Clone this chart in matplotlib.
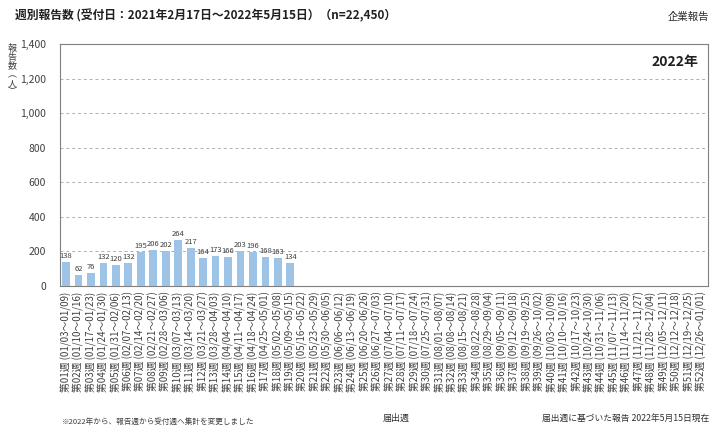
"""
    Weekly report counts by reception week (2022)
"""
import numpy as np
import matplotlib.pyplot as plt
from matplotlib.ticker import FuncFormatter

plt.rcParams['font.family'] = ['Noto Sans CJK JP', 'DejaVu Sans']

# week labels for 2022 (week 1 .. week 52)
week_labels = [
    "第01週 (01/03～01/09)", "第02週 (01/10～01/16)", "第03週 (01/17～01/23)",
    "第04週 (01/24～01/30)", "第05週 (01/31～02/06)", "第06週 (02/07～02/13)",
    "第07週 (02/14～02/20)", "第08週 (02/21～02/27)", "第09週 (02/28～03/06)",
    "第10週 (03/07～03/13)", "第11週 (03/14～03/20)", "第12週 (03/21～03/27)",
    "第13週 (03/28～04/03)", "第14週 (04/04～04/10)", "第15週 (04/11～04/17)",
    "第16週 (04/18～04/24)", "第17週 (04/25～05/01)", "第18週 (05/02～05/08)",
    "第19週 (05/09～05/15)", "第20週 (05/16～05/22)", "第21週 (05/23～05/29)",
    "第22週 (05/30～06/05)", "第23週 (06/06～06/12)", "第24週 (06/13～06/19)",
    "第25週 (06/20～06/26)", "第26週 (06/27～07/03)", "第27週 (07/04～07/10)",
    "第28週 (07/11～07/17)", "第29週 (07/18～07/24)", "第30週 (07/25～07/31)",
    "第31週 (08/01～08/07)", "第32週 (08/08～08/14)", "第33週 (08/15～08/21)",
    "第34週 (08/22～08/28)", "第35週 (08/29～09/04)", "第36週 (09/05～09/11)",
    "第37週 (09/12～09/18)", "第38週 (09/19～09/25)", "第39週 (09/26～10/02)",
    "第40週 (10/03～10/09)", "第41週 (10/10～10/16)", "第42週 (10/17～10/23)",
    "第43週 (10/24～10/30)", "第44週 (10/31～11/06)", "第45週 (11/07～11/13)",
    "第46週 (11/14～11/20)", "第47週 (11/21～11/27)", "第48週 (11/28～12/04)",
    "第49週 (12/05～12/11)", "第50週 (12/12～12/18)", "第51週 (12/19～12/25)",
    "第52週 (12/26～01/01)",
]

# reported counts (only weeks 1-19 so far)
counts = [138, 62, 76, 132, 120, 132, 195, 206, 202, 264,
          217, 164, 173, 166, 203, 196, 168, 163, 134]

y_ticks = [0, 200, 400, 600, 800, 1000, 1200, 1400]

fig = plt.figure(figsize=(7.12, 4.28), dpi=100)
ax = fig.add_axes([0.084, 0.332, 0.910, 0.565])

x = np.arange(len(week_labels))
xb = x[:len(counts)]
bars = ax.bar(xb, counts, width=0.62, color="#9DC3E6", zorder=3)

for xi, v in zip(xb, counts):
    ax.text(xi, v + 12, str(v), ha="center", va="bottom",
            fontsize=5.5, color="#404040", zorder=4)

ax.set_xlim(-0.5, len(week_labels) - 0.5)
ax.set_ylim(0, 1400)
ax.set_yticks(y_ticks)
ax.yaxis.set_major_formatter(FuncFormatter(lambda v, p: f"{int(v):,}"))
ax.tick_params(axis="y", length=0, labelsize=7.5, colors="#404040", pad=10)
ax.set_xticks(x)
ax.set_xticklabels(week_labels, rotation=90, fontsize=7, color="#404040")
ax.tick_params(axis="x", length=0, pad=4)

ax.grid(axis="y", linestyle=(0, (3, 3)), color="#b0b0b0", linewidth=0.7, zorder=0)
for s in ax.spines.values():
    s.set_color("#7f7f7f")
    s.set_linewidth(0.8)

ax.text(0.985, 0.955, "2022年", transform=ax.transAxes, ha="right", va="top",
        fontsize=10, fontweight="bold", color="#202020")

# y label stacked vertically
fig.text(0.017, 0.897, "報\n告\n数\n︵\n人\n︶", ha="center", va="top",
         fontsize=6.5, color="#404040", linespacing=0.95)

fig.text(0.021, 0.963, "週別報告数 (受付日：2021年2月17日～2022年5月15日）（n=22,450）",
         ha="left", va="center", fontsize=8.5, fontweight="bold", color="#202020")
fig.text(0.996, 0.960, "企業報告", ha="right", va="center", fontsize=7.5,
         color="#303030")

fig.text(0.087, 0.005, "※2022年から、報告週から受付週へ集計を変更しました",
         ha="left", va="bottom", fontsize=5.5, color="#404040")
fig.text(0.556, 0.012, "届出週", ha="center", va="bottom", fontsize=6.5,
         color="#303030")
fig.text(0.996, 0.012, "届出週に基づいた報告 2022年5月15日現在", ha="right",
         va="bottom", fontsize=6.3, color="#303030")

plt.savefig("out.png", dpi=100)
